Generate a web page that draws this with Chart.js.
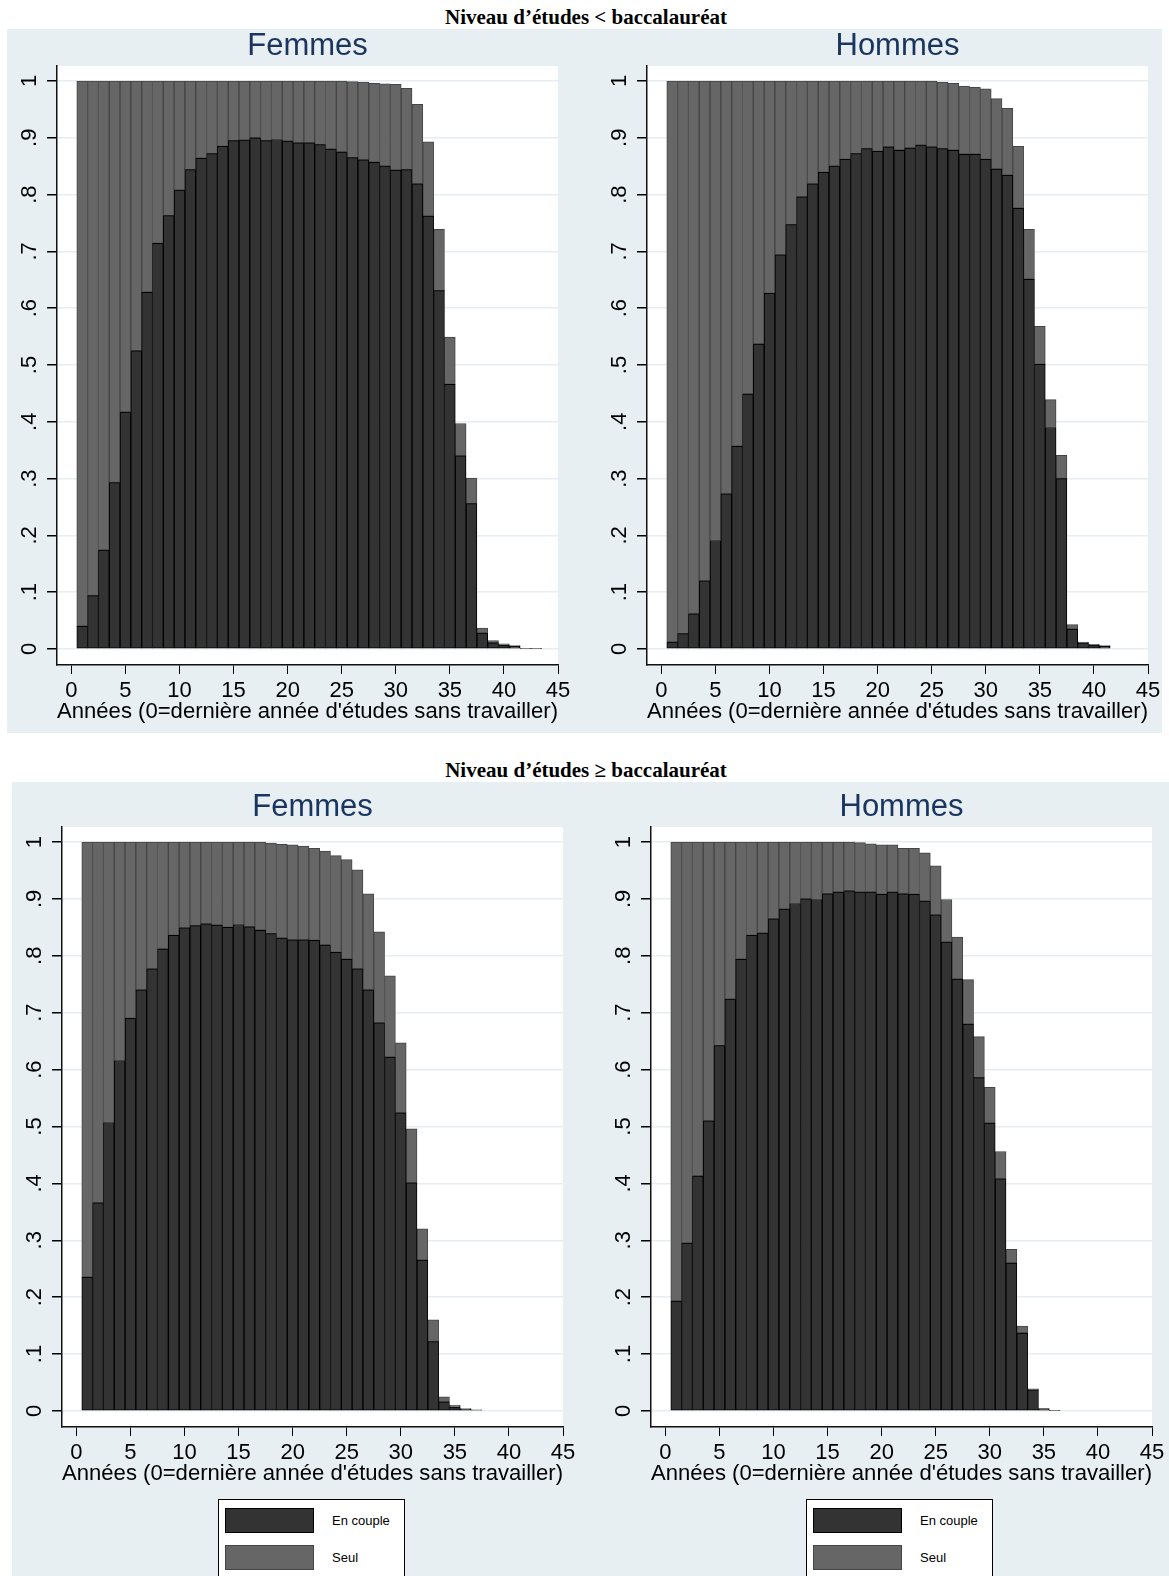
<!DOCTYPE html>
<html>
<head>
<meta charset="utf-8">
<script src="https://cdn.jsdelivr.net/npm/chart.js@4.4.0/dist/chart.umd.min.js"></script>
<style>
  body { margin: 0; width: 1169px; height: 1576px; overflow: hidden; background: #fff; position: relative; font-family: "Liberation Sans", Arial, sans-serif; }
  .band { position: absolute; background: #e8eff2; }
  .head { position: absolute; left: 0; width: 1172px; text-align: center; font: bold 21px "Liberation Serif", "Times New Roman", serif; line-height: 24px; color: #000; }
  canvas { position: absolute; }
  .legend { position: absolute; top: 1499px; width: 185px; height: 90px; background: #fff; border: 1.5px solid #000; }
  .item { position: absolute; left: 6px; height: 25px; }
  .sw { position: absolute; left: 0; top: 0; width: 87px; height: 23px; border: 1px solid #000; }
  .tx { position: absolute; left: 107px; top: 0; line-height: 25px; font-size: 13px; white-space: nowrap; color: #000; }
</style>
</head>
<body>
<div class="band" style="left:7px;top:29px;width:1155px;height:704px"></div>
<div class="band" style="left:12px;top:782px;width:1157px;height:794px"></div>
<div class="head" style="top:5px">Niveau d’études &lt; baccalauréat</div>
<div class="head" style="top:758px">Niveau d’études ≥ baccalauréat</div>

<canvas id="c1" width="576" height="704" style="left:7px;top:29px"></canvas>
<canvas id="c2" width="576" height="704" style="left:597px;top:29px"></canvas>
<canvas id="c3" width="576" height="713" style="left:12px;top:782px"></canvas>
<canvas id="c4" width="576" height="713" style="left:601px;top:782px"></canvas>
<div class="legend" id="lg3" style="left:218px"></div>
<div class="legend" id="lg4" style="left:806px"></div>

<script>
// années depuis la fin des études
const annees = [1, 2, 3, 4, 5, 6, 7, 8, 9, 10, 11, 12, 13, 14, 15, 16, 17, 18, 19, 20, 21, 22,
  23, 24, 25, 26, 27, 28, 29, 30, 31, 32, 33, 34, 35, 36, 37, 38, 39, 40, 41, 42, 43];
const xTicks = [0, 5, 10, 15, 20, 25, 30, 35, 40, 45];
const yTicks = [0, 0.1, 0.2, 0.3, 0.4, 0.5, 0.6, 0.7, 0.8, 0.9, 1];

// Niveau < bac, femmes (total = en couple + seul)
const femmesBasTotal = [1, 1, 1, 1, 1, 1, 1, 1, 1, 1, 1, 1, 1, 1, 1, 1, 1, 1, 1, 1, 1, 1, 1, 1, 1,
  0.999, 0.998, 0.996, 0.995, 0.994, 0.987, 0.959, 0.893, 0.739, 0.549, 0.397, 0.301, 0.037, 0.015, 0.009, 0.006, 0.001, 0.001];
const femmesBasCouple = [0.040, 0.094, 0.174, 0.293, 0.417, 0.525, 0.628, 0.714, 0.763, 0.808, 0.844, 0.864, 0.872, 0.885,
  0.895, 0.896, 0.900, 0.895, 0.897, 0.894, 0.891, 0.891, 0.888, 0.880, 0.875, 0.865, 0.861, 0.857, 0.850, 0.843,
  0.844, 0.819, 0.762, 0.631, 0.466, 0.340, 0.256, 0.028, 0.011, 0.007, 0.005, 0.001, 0.001];

// Niveau < bac, hommes
const hommesBasTotal = [1, 1, 1, 1, 1, 1, 1, 1, 1, 1, 1, 1, 1, 1, 1, 1, 1, 1, 1, 1, 1, 1, 1, 1, 1,
  0.998, 0.996, 0.991, 0.989, 0.986, 0.969, 0.952, 0.885, 0.739, 0.568, 0.439, 0.341, 0.043, 0.012, 0.008, 0.006];
const hommesBasCouple = [0.012, 0.027, 0.062, 0.120, 0.191, 0.273, 0.357, 0.449, 0.537, 0.626, 0.694, 0.747, 0.796, 0.819,
  0.839, 0.850, 0.862, 0.872, 0.881, 0.876, 0.884, 0.878, 0.882, 0.887, 0.884, 0.881, 0.878, 0.871, 0.871, 0.862,
  0.845, 0.834, 0.776, 0.651, 0.501, 0.390, 0.300, 0.035, 0.011, 0.007, 0.005];

// Niveau >= bac, femmes
const femmesHautTotal = [1, 1, 1, 1, 1, 1, 1, 1, 1, 1, 1, 1, 1, 1, 1, 1, 1,
  0.998, 0.996, 0.995, 0.993, 0.989, 0.984, 0.976, 0.969, 0.951, 0.909, 0.842, 0.765, 0.647, 0.496, 0.320, 0.160,
  0.025, 0.010, 0.004, 0.002];
const femmesHautCouple = [0.235, 0.366, 0.507, 0.616, 0.690, 0.740, 0.777, 0.812, 0.836, 0.849, 0.853, 0.856, 0.854, 0.850,
  0.855, 0.851, 0.845, 0.839, 0.831, 0.828, 0.828, 0.827, 0.819, 0.806, 0.794, 0.777, 0.740, 0.682, 0.622, 0.524,
  0.401, 0.265, 0.122, 0.016, 0.007, 0.003, 0.002];

// Niveau >= bac, hommes
const hommesHautTotal = [1, 1, 1, 1, 1, 1, 1, 1, 1, 1, 1, 1, 1, 1, 1, 1, 1,
  0.999, 0.997, 0.995, 0.995, 0.989, 0.989, 0.981, 0.958, 0.899, 0.833, 0.758, 0.658, 0.569, 0.456, 0.284, 0.149,
  0.039, 0.004, 0.001];
const hommesHautCouple = [0.193, 0.295, 0.413, 0.510, 0.642, 0.724, 0.794, 0.836, 0.840, 0.865, 0.882, 0.892, 0.900, 0.899,
  0.909, 0.912, 0.914, 0.912, 0.912, 0.908, 0.912, 0.909, 0.908, 0.896, 0.872, 0.824, 0.759, 0.680, 0.586, 0.506,
  0.408, 0.260, 0.137, 0.037, 0.004, 0.001];

Chart.defaults.font.family = '"Liberation Sans", Arial, sans-serif';
Chart.defaults.color = '#000';

// fond blanc de la zone de tracé
const plotBg = {
  id: 'plotBg',
  beforeDraw(chart) {
    const { ctx, chartArea: a } = chart;
    ctx.save();
    ctx.fillStyle = '#fff';
    ctx.fillRect(a.left, a.top, a.width, a.height);
    ctx.restore();
  }
};

function yLabel(v) {
  if (v === 0) return '0';
  if (v === 1) return '1';
  return v.toFixed(1).replace(/^0/, '');
}

function panel(id, titre, titreHaut, total, couple) {
  const labels = annees.slice(0, total.length);
  const seul = total.map((t, i) => +(t - couple[i]).toFixed(3));
  return new Chart(document.getElementById(id), {
    type: 'bar',
    data: {
      labels,
      datasets: [
        { label: 'En couple', data: couple, backgroundColor: '#333333', borderColor: '#000000', borderWidth: 1, borderSkipped: false },
        { label: 'Seul', data: seul, backgroundColor: '#666666', borderColor: '#454545', borderWidth: 1, borderSkipped: false }
      ]
    },
    options: {
      responsive: false,
      animation: false,
      events: [],
      barPercentage: 1,
      categoryPercentage: 1,
      layout: { padding: { left: 0, right: 25, top: 0, bottom: 0 } },
      plugins: {
        legend: { display: false },
        tooltip: { enabled: false },
        title: {
          display: true,
          fullSize: false,
          text: titre,
          color: '#1a3560',
          font: { size: 31, weight: 'normal', lineHeight: 1 },
          padding: { top: titreHaut, bottom: 4.5 }
        }
      },
      scales: {
        x: {
          type: 'linear',
          stacked: true,
          min: -1.33,
          max: 45,
          offset: false,
          afterBuildTicks: s => { s.ticks = xTicks.map(v => ({ value: v })); },
          afterFit: s => { s.height = 68; },
          grid: { display: true, drawOnChartArea: false, drawTicks: true, tickLength: 9, tickColor: '#000', offset: false },
          border: { display: true, color: '#111', width: 1.5 },
          ticks: { autoSkip: false, padding: 4, font: { size: 22 }, maxRotation: 0 },
          title: {
            display: true,
            text: "Années (0=dernière année d'études sans travailler)",
            font: { size: 22.5 },
            padding: { top: 0, bottom: 7.5 }
          }
        },
        y: {
          stacked: true,
          min: -0.0282,
          max: 1.0264,
          afterBuildTicks: s => { s.ticks = yTicks.map(v => ({ value: v })); },
          afterFit: s => { s.width = 50; },
          grid: { color: '#e6eef2', lineWidth: 1.5, drawTicks: true, tickLength: 10, tickColor: '#000' },
          border: { display: true, color: '#111', width: 1.5 },
          ticks: {
            minRotation: 90,
            maxRotation: 90,
            crossAlign: 'center',
            padding: 8,
            font: { size: 22 },
            callback: v => yLabel(v)
          }
        }
      }
    },
    plugins: [plotBg]
  });
}

function legende(chart, el) {
  chart.data.datasets.forEach((ds, i) => {
    const item = document.createElement('div');
    item.className = 'item';
    item.style.top = (8 + i * 37) + 'px';
    const sw = document.createElement('span');
    sw.className = 'sw';
    sw.style.background = ds.backgroundColor;
    sw.style.borderColor = ds.borderColor;
    const tx = document.createElement('span');
    tx.className = 'tx';
    tx.textContent = ds.label;
    item.appendChild(sw);
    item.appendChild(tx);
    el.appendChild(item);
  });
}

panel('c1', 'Femmes', 1.5, femmesBasTotal, femmesBasCouple);
panel('c2', 'Hommes', 1.5, hommesBasTotal, hommesBasCouple);
const g3 = panel('c3', 'Femmes', 9.5, femmesHautTotal, femmesHautCouple);
const g4 = panel('c4', 'Hommes', 9.5, hommesHautTotal, hommesHautCouple);
legende(g3, document.getElementById('lg3'));
legende(g4, document.getElementById('lg4'));
</script>
</body>
</html>
